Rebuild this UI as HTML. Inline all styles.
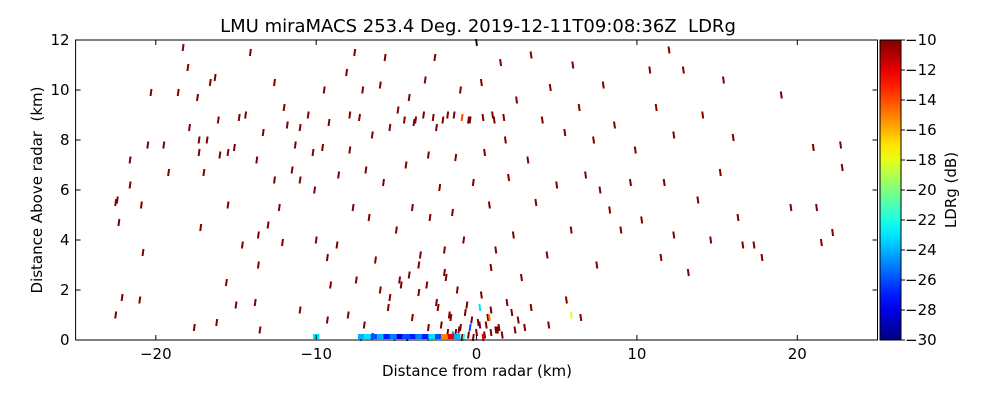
<!DOCTYPE html>
<html><head><meta charset="utf-8"><style>
body{margin:0;background:#fff;width:1000px;height:400px;overflow:hidden}
svg text{font-family:"DejaVu Sans","Liberation Sans",sans-serif;fill:#000;white-space:pre}
</style></head><body>
<svg id="c" width="1000" height="400" xmlns="http://www.w3.org/2000/svg"></svg>
<script>
const xTicks=[-20,-10,0,10,20];
const yTicks=[0,2,4,6,8,10,12];
const cbTicks=[-10,-12,-14,-16,-18,-20,-22,-24,-26,-28,-30];
const ptX=[-22.5,-22.3,-22.4,-21.6,-21.6,-20.9,-20.8,-20.5,-20.3,-19.5,-19.2,-18.6,-18.3,-18.0,-17.9,-17.4,-17.3,-17.0,-17.3,-17.2,-16.8,-16.6,-16.3,-16.1,-16.0,-15.5,-15.5,-15.6,-15.1,-14.8,-14.4,-14.6,-14.1,-13.7,-13.6,-13.6,-13.3,-13.0,-12.6,-12.3,-12.1,-12.6,-12.0,-11.8,-11.3,-11.5,-11.0,-11.0,-10.5,-10.2,-10.1,-10.0,-9.6,-9.5,-9.3,-9.2,-9.1,-8.6,-8.7,-8.1,-7.9,-7.9,-7.7,-7.6,-7.5,-7.3,-7.1,-6.9,-6.7,-6.5,-6.3,-6.0,-5.8,-5.7,-5.4,-5.0,-4.9,-4.7,-4.4,-4.2,-4.0,-3.8,-3.5,-3.2,-3.0,-2.9,-2.6,-2.5,-2.3,-2.0,-1.8,-1.5,-1.3,-1.0,-0.8,-0.5,-0.2,0.0,0.3,0.5,0.8,1.0,1.2,1.5,1.8,2.0,2.3,2.5,2.8,3.2,3.4,3.7,4.1,4.4,4.6,5.0,5.5,5.9,6.0,6.4,6.8,7.3,7.5,7.7,7.9,8.3,8.6,9.0,9.6,9.9,10.3,10.8,11.2,11.5,11.7,12.0,12.3,12.3,12.9,13.2,13.8,14.1,14.6,15.2,15.4,16.0,16.3,16.6,17.3,17.8,19.0,19.6,21.2,21.0,21.5,22.2,22.7,22.8,-13.5,-13.8,-11.0,-9.3,-8.0,-7.0,-5.5,-4.0,-3.0,-2.5,-1.7,-1.2,-1.0,-0.6,-0.3,0.0,0.3,0.6,0.9,1.4,1.9,2.6,3.4,4.5,5.6,6.5,-21.0,-22.1,-22.5,-16.2,-15.0,-17.6,
-4.5,-3.9,-3.3,-2.7,-2.1,-1.4,-0.9,-0.4,0.4,1.1,1.7,-3.6,-2.0,0.9,-6.0,-5.4,-4.8,-4.2,-3.6,-3.1,-2.4,-1.9,-1.6,-1.1,-0.7,0.2,0.7,1.3,2.2,3.0,-0.5,0.1,0.5,-1.3,-0.9,0.9,1.6,-2.2,2.4,-1.8,1.2,-0.2,0.4,-0.8,-6.5,-7.2,-5.1,-4.3,-3.0,-1.5,-0.4,0.2,0.8,5.9];
const ptY=[5.5,4.7,5.6,7.2,6.2,5.4,3.5,7.8,9.9,7.8,6.7,9.9,11.7,10.9,8.5,9.7,7.5,6.7,8.0,4.5,8.0,10.3,10.5,8.8,7.4,7.5,5.4,2.3,7.7,8.9,9.0,3.8,11.5,7.2,4.2,3.0,8.3,4.6,6.4,5.3,3.9,10.3,9.3,8.6,7.8,6.8,6.4,8.5,9.0,7.5,6.0,4.0,7.7,10.0,3.3,8.7,2.2,6.6,3.8,10.7,9.0,7.6,5.3,11.5,2.4,8.9,10.0,6.8,4.9,8.2,3.2,10.2,6.3,11.3,8.5,4.4,9.2,2.2,7.0,9.7,5.3,8.8,3.4,10.4,7.4,4.9,11.3,8.5,6.1,2.7,9.0,5.1,7.3,10.0,4.0,8.8,6.3,11.9,10.3,7.5,5.4,9.0,3.6,11.1,8.0,6.5,4.2,9.6,2.5,7.2,11.4,5.5,8.8,3.4,10.1,6.2,8.3,4.4,11.0,9.3,6.6,8.0,3.0,6.0,10.2,5.2,8.6,4.4,6.3,7.6,4.8,10.8,9.3,3.3,6.3,11.6,4.2,8.2,10.8,2.7,5.6,9.0,4.0,6.7,10.4,8.1,4.9,3.8,3.8,3.3,9.8,5.3,5.3,7.7,3.9,4.3,7.8,6.9,0.4,1.5,1.2,0.8,1.0,0.6,1.3,0.9,0.5,1.5,1.0,2.0,0.5,1.4,0.8,0.3,1.8,0.6,1.2,0.5,1.5,0.8,1.3,0.6,1.6,0.9,1.6,1.7,1.0,0.7,1.4,0.5,
8.8,8.7,9.0,8.9,8.8,9.0,8.9,8.8,8.9,8.8,8.9,3.0,3.6,2.9,2.0,1.7,2.4,2.6,1.9,2.2,1.3,2.5,0.9,0.4,1.1,0.6,0.9,0.4,1.1,0.5,0.2,0.7,0.2,0.3,0.1,0.3,0.2,0.6,0.4,0.3,0.4,0.1,0.1,0.1,0.15,0.1,0.1,0.1,0.1,0.2,0.5,1.3,0.9,1.0];
const ptV=ptX.map(function(){return -10;});
const colIdx=[196,234,235,236,237,238,239,240,241,242,243,244,245,246,247,232,233];
const colVal=[-14,-26,-25,-24,-27,-23,-25,-26,-23,-15,-18,-24,-27,-28,-26,-12,-22];
colIdx.forEach(function(k,j){ptV[k]=colVal[j];});
// low-elevation strip echoes (x in km, value in dB)
const stripX=[-10.2,-7.4,-7.0,-6.6,-6.2,-5.8,-5.4,-5.0,-4.6,-4.2,-3.8,-3.4,-3.0,-2.6,-2.2,-1.8,-1.4];
const stripV=[-23,-24,-23,-26,-24,-27,-25,-28,-26,-27,-25,-27,-23,-26,-15,-12,-24];

const NS='http://www.w3.org/2000/svg';
const svg=document.getElementById('c');
const L=75.6,R=877.5,T=40,B=340;
function sx(v){return L+(v+25)/50*(R-L);}
function sy(v){return B-v/12*(B-T);}
function jet(t){t=Math.max(0,Math.min(1,t));
 function f(x){return Math.max(0,Math.min(1,1.5-Math.abs(4*t-x)));}
 return 'rgb('+Math.round(255*f(3))+','+Math.round(255*f(2))+','+Math.round(255*f(1))+')';}
function vc(v){return jet((v+30)/20);}
function el(tag,a,p){const e=document.createElementNS(NS,tag);for(const k in a)e.setAttribute(k,a[k]);(p||svg).appendChild(e);return e;}

const marks=el('g',{});


for(let i=0;i<ptX.length;i++){
 const x=sx(ptX[i]),y=sy(ptY[i]);
 const ang=ptX[i]<0?8:-8;
 const r=el('rect',{x:(x-1).toFixed(1),y:(y-3.5).toFixed(1),width:2,height:7,fill:vc(ptV[i]),transform:'rotate('+ang+' '+x.toFixed(1)+' '+y.toFixed(1)+')'},marks);
 
 
}
for(let i=0;i<stripX.length;i++){
 const r=el('rect',{x:sx(stripX[i]).toFixed(1),y:B-6,width:6.4,height:5,fill:vc(stripV[i])},marks);
 
 
}
const frame=el('rect',{x:L,y:T,width:R-L,height:B-T,fill:'none',stroke:'#000','stroke-width':1});


xTicks.forEach(function(v){const x=sx(v);
 el('line',{x1:x,x2:x,y1:B,y2:B-5,stroke:'#000'});el('line',{x1:x,x2:x,y1:T,y2:T+5,stroke:'#000'});
 const t=el('text',{x:x,y:B+19,'font-size':15,'text-anchor':'middle'});t.textContent=v<0?'\u2212'+(-v):v;
 
 });
yTicks.forEach(function(v){const y=sy(v);
 el('line',{x1:L,x2:L+5,y1:y,y2:y,stroke:'#000'});el('line',{x1:R,x2:R-5,y1:y,y2:y,stroke:'#000'});
 const t=el('text',{x:L-6,y:y+5,'font-size':15,'text-anchor':'end'});t.textContent=v;
 
 });
const defs=el('defs',{});const g=el('linearGradient',{id:'jg',x1:0,y1:1,x2:0,y2:0},defs);
for(let i=0;i<=20;i++)el('stop',{offset:i/20,'stop-color':jet(i/20)},g);
const cb=el('rect',{x:880,y:T,width:21,height:B-T,fill:'url(#jg)',stroke:'#000'});


cbTicks.forEach(function(v){const y=T+(-10-v)/20*(B-T);
 el('line',{x1:901,x2:905,y1:y,y2:y,stroke:'#000'});
 const t=el('text',{x:905,y:y+5,'font-size':15});t.textContent='\u2212'+(-v);
 
 });
function lab(txt,x,y,size,name,rot){const t=el('text',{x:x,y:y,'font-size':size,'text-anchor':'middle'});
 if(rot)t.setAttribute('transform','rotate(-90 '+x+' '+y+')');t.textContent=txt;
 
 }
lab('LMU miraMACS 253.4 Deg. 2019-12-11T09:08:36Z\u00a0\u00a0LDRg',478,32,18,'chart-title');
lab('Distance from radar (km)',477,376,15,'x-axis-title');
lab('Distance Above radar\u00a0\u00a0(km)',42,190,15,'y-axis-title',true);
lab('LDRg (dB)',956,190,15,'colorbar-title',true);
</script>
</body></html>
